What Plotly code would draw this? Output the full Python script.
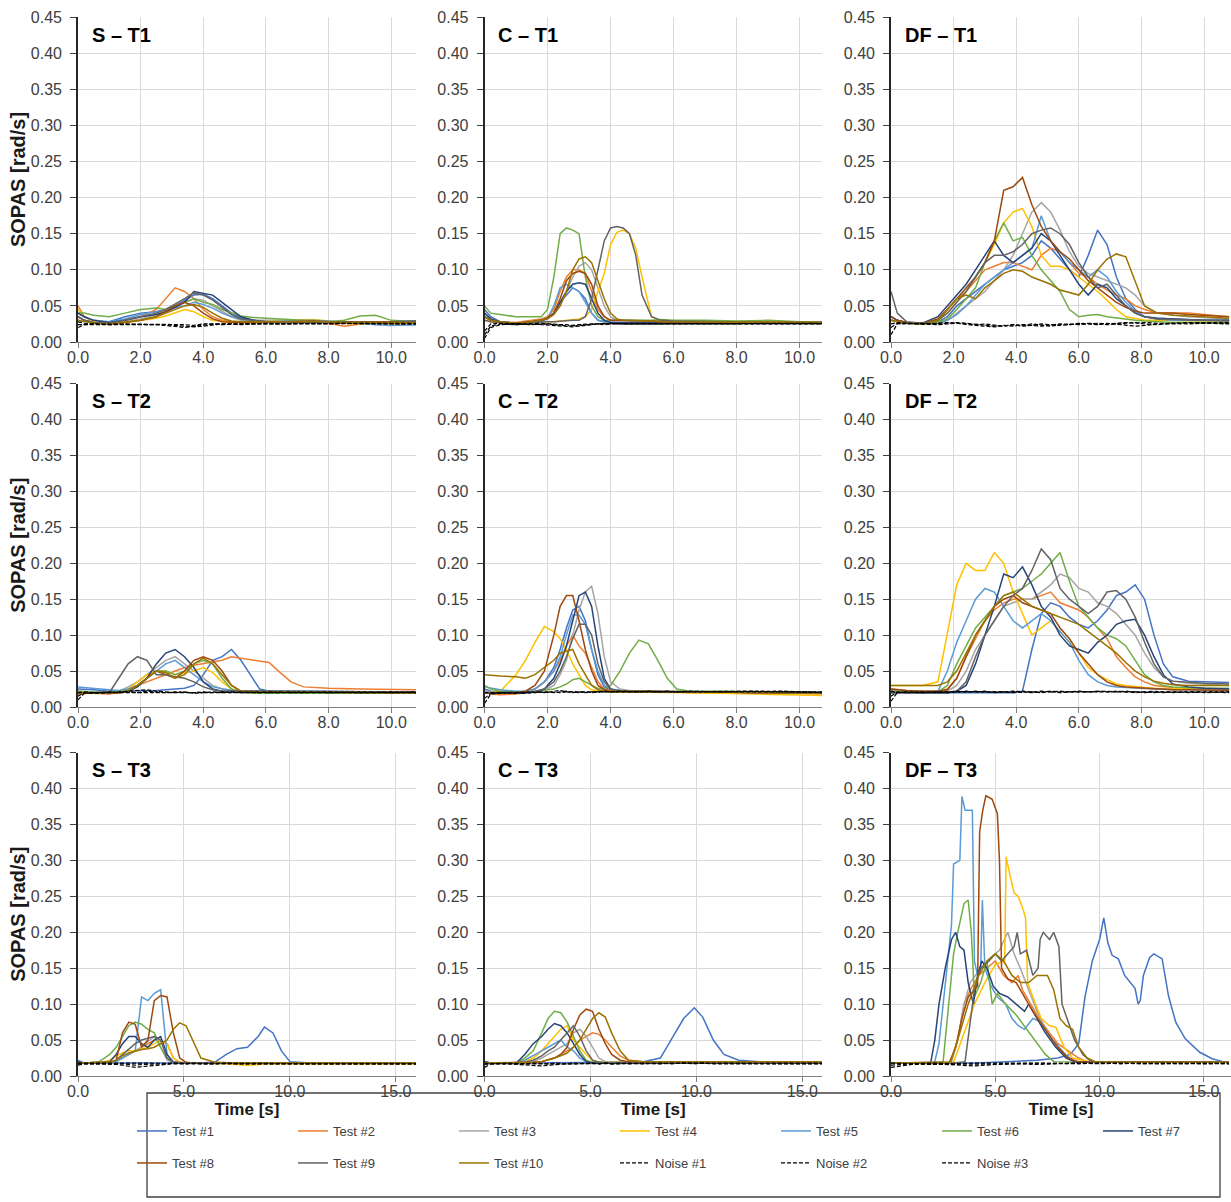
import plotly.graph_objects as go

W, H = 1231, 1202

SERIES = ["Test #1", "Test #2", "Test #3", "Test #4", "Test #5", "Test #6", "Test #7",
          "Test #8", "Test #9", "Test #10", "Noise #1", "Noise #2", "Noise #3"]
COLORS = ["#4472C4", "#ED7D31", "#A5A5A5", "#FFC000", "#5B9BD5", "#70AD47", "#264478",
          "#9E480E", "#636363", "#997300", "#000000", "#000000", "#000000"]
PANEL_LABELS = ["S – T1", "C – T1", "DF – T1",
                "S – T2", "C – T2", "DF – T2",
                "S – T3", "C – T3", "DF – T3"]
Y_TICKS = [0.00, 0.05, 0.10, 0.15, 0.20, 0.25, 0.30, 0.35, 0.40, 0.45]
X_TICKS_SHORT = [0, 2, 4, 6, 8, 10]
X_TICKS_LONG = [0, 5, 10, 15]
Y_TITLE = "SOPAS [rad/s]"
X_TITLE = "Time [s]"

# ---------------- S - T1 ----------------
S_T1_TIME = [0.0, 0.2, 0.5, 1.0, 1.5, 2.0, 2.5, 2.8, 3.1, 3.4, 3.7, 4.0, 4.3, 4.6, 4.9, 5.2, 5.6, 6.0, 6.5, 7.0, 7.5, 8.0, 8.5, 9.0, 9.5, 10.0, 10.8]
S_T1_TEST = [
    [0.035, 0.030, 0.027, 0.028, 0.035, 0.040, 0.042, 0.045, 0.050, 0.058, 0.065, 0.066, 0.060, 0.050, 0.040, 0.033, 0.030, 0.028, 0.027, 0.027, 0.028, 0.027, 0.026, 0.027, 0.028, 0.027, 0.028],
    [0.050, 0.035, 0.028, 0.026, 0.030, 0.035, 0.045, 0.060, 0.075, 0.070, 0.060, 0.045, 0.035, 0.030, 0.028, 0.028, 0.028, 0.027, 0.028, 0.028, 0.030, 0.026, 0.022, 0.025, 0.026, 0.025, 0.024],
    [0.030, 0.028, 0.027, 0.026, 0.028, 0.032, 0.038, 0.042, 0.048, 0.055, 0.060, 0.058, 0.050, 0.042, 0.035, 0.030, 0.030, 0.030, 0.029, 0.029, 0.030, 0.028, 0.027, 0.027, 0.028, 0.027, 0.028],
    [0.045, 0.035, 0.028, 0.026, 0.027, 0.030, 0.033, 0.036, 0.040, 0.045, 0.042, 0.035, 0.030, 0.028, 0.027, 0.027, 0.027, 0.028, 0.030, 0.030, 0.031, 0.029, 0.026, 0.025, 0.027, 0.026, 0.025],
    [0.040, 0.035, 0.030, 0.028, 0.032, 0.038, 0.042, 0.045, 0.048, 0.050, 0.055, 0.052, 0.047, 0.040, 0.035, 0.032, 0.030, 0.028, 0.029, 0.030, 0.030, 0.029, 0.028, 0.026, 0.024, 0.023, 0.024],
    [0.040, 0.040, 0.037, 0.035, 0.040, 0.045, 0.047, 0.045, 0.050, 0.055, 0.060, 0.055, 0.052, 0.045, 0.040, 0.036, 0.034, 0.033, 0.032, 0.031, 0.030, 0.028, 0.030, 0.036, 0.037, 0.030, 0.028],
    [0.040, 0.035, 0.030, 0.027, 0.030, 0.035, 0.038, 0.042, 0.048, 0.055, 0.070, 0.068, 0.065, 0.055, 0.045, 0.035, 0.030, 0.028, 0.027, 0.027, 0.028, 0.027, 0.028, 0.028, 0.027, 0.028, 0.029],
    [0.035, 0.030, 0.027, 0.025, 0.027, 0.030, 0.035, 0.042, 0.050, 0.055, 0.050, 0.040, 0.032, 0.028, 0.027, 0.027, 0.027, 0.028, 0.028, 0.029, 0.029, 0.028, 0.028, 0.027, 0.027, 0.028, 0.028],
    [0.035, 0.030, 0.027, 0.026, 0.030, 0.035, 0.040, 0.045, 0.052, 0.060, 0.068, 0.065, 0.058, 0.048, 0.038, 0.032, 0.030, 0.028, 0.028, 0.028, 0.028, 0.028, 0.027, 0.028, 0.028, 0.027, 0.029],
    [0.030, 0.028, 0.026, 0.025, 0.027, 0.030, 0.035, 0.040, 0.046, 0.050, 0.052, 0.048, 0.040, 0.033, 0.029, 0.028, 0.028, 0.028, 0.028, 0.028, 0.029, 0.028, 0.027, 0.027, 0.027, 0.027, 0.027],
]
S_T1_NOISE = [
    [0.020, 0.024, 0.025, 0.025, 0.025, 0.024, 0.024, 0.023, 0.022, 0.020, 0.022, 0.024, 0.025, 0.024, 0.025, 0.025, 0.025, 0.025, 0.026, 0.025, 0.026, 0.026, 0.025, 0.025, 0.026, 0.025, 0.026],
    [0.024, 0.024, 0.024, 0.025, 0.024, 0.025, 0.025, 0.024, 0.023, 0.022, 0.021, 0.022, 0.024, 0.025, 0.025, 0.024, 0.025, 0.026, 0.025, 0.026, 0.025, 0.026, 0.026, 0.025, 0.025, 0.026, 0.025],
    [0.028, 0.026, 0.025, 0.024, 0.025, 0.025, 0.024, 0.025, 0.025, 0.024, 0.023, 0.025, 0.025, 0.025, 0.024, 0.025, 0.025, 0.025, 0.025, 0.025, 0.026, 0.025, 0.026, 0.026, 0.025, 0.025, 0.025],
]

# ---------------- C - T1 ----------------
C_T1_TIME = [0.0, 0.2, 0.5, 1.0, 1.5, 1.8, 2.0, 2.2, 2.4, 2.6, 2.8, 3.0, 3.2, 3.4, 3.6, 3.8, 4.0, 4.2, 4.4, 4.6, 4.8, 5.0, 5.3, 5.6, 6.0, 7.0, 8.0, 9.0, 10.0, 10.8]
C_T1_TEST = [
    [0.045, 0.035, 0.028, 0.026, 0.028, 0.030, 0.033, 0.040, 0.055, 0.065, 0.075, 0.070, 0.060, 0.040, 0.030, 0.028, 0.027, 0.027, 0.026, 0.027, 0.027, 0.027, 0.028, 0.028, 0.027, 0.026, 0.028, 0.027, 0.026, 0.027],
    [0.035, 0.030, 0.028, 0.027, 0.030, 0.032, 0.035, 0.045, 0.070, 0.090, 0.100, 0.100, 0.095, 0.070, 0.045, 0.035, 0.030, 0.030, 0.030, 0.029, 0.029, 0.030, 0.030, 0.029, 0.028, 0.027, 0.028, 0.028, 0.027, 0.026],
    [0.035, 0.030, 0.028, 0.026, 0.028, 0.030, 0.032, 0.038, 0.050, 0.070, 0.090, 0.105, 0.110, 0.100, 0.075, 0.050, 0.035, 0.030, 0.030, 0.030, 0.030, 0.029, 0.030, 0.029, 0.028, 0.027, 0.028, 0.027, 0.027, 0.026],
    [0.030, 0.028, 0.027, 0.026, 0.027, 0.028, 0.028, 0.028, 0.029, 0.030, 0.030, 0.032, 0.035, 0.045, 0.070, 0.095, 0.135, 0.152, 0.155, 0.150, 0.130, 0.090, 0.035, 0.030, 0.029, 0.028, 0.027, 0.028, 0.027, 0.025],
    [0.040, 0.032, 0.027, 0.024, 0.026, 0.028, 0.032, 0.050, 0.075, 0.080, 0.075, 0.070, 0.055, 0.040, 0.030, 0.028, 0.027, 0.027, 0.027, 0.026, 0.027, 0.027, 0.027, 0.026, 0.026, 0.026, 0.027, 0.026, 0.026, 0.026],
    [0.050, 0.040, 0.038, 0.035, 0.035, 0.035, 0.045, 0.090, 0.150, 0.158, 0.155, 0.150, 0.090, 0.050, 0.035, 0.030, 0.030, 0.030, 0.030, 0.029, 0.030, 0.029, 0.030, 0.031, 0.030, 0.030, 0.029, 0.030, 0.028, 0.028],
    [0.040, 0.032, 0.028, 0.026, 0.028, 0.030, 0.033, 0.040, 0.055, 0.070, 0.080, 0.082, 0.080, 0.060, 0.040, 0.030, 0.027, 0.027, 0.027, 0.027, 0.027, 0.027, 0.027, 0.027, 0.027, 0.026, 0.027, 0.027, 0.026, 0.026],
    [0.035, 0.030, 0.027, 0.026, 0.028, 0.030, 0.033, 0.040, 0.060, 0.085, 0.095, 0.098, 0.095, 0.080, 0.050, 0.035, 0.030, 0.030, 0.029, 0.029, 0.029, 0.029, 0.029, 0.028, 0.028, 0.027, 0.028, 0.027, 0.027, 0.027],
    [0.030, 0.028, 0.027, 0.026, 0.027, 0.028, 0.028, 0.028, 0.029, 0.030, 0.030, 0.030, 0.035, 0.060, 0.100, 0.140, 0.158, 0.160, 0.158, 0.150, 0.120, 0.065, 0.035, 0.030, 0.029, 0.028, 0.028, 0.027, 0.027, 0.027],
    [0.035, 0.030, 0.028, 0.026, 0.028, 0.030, 0.032, 0.038, 0.050, 0.070, 0.100, 0.115, 0.118, 0.110, 0.085, 0.060, 0.040, 0.032, 0.030, 0.030, 0.030, 0.029, 0.029, 0.028, 0.028, 0.027, 0.028, 0.027, 0.027, 0.027],
]
C_T1_NOISE = [
    [0.005, 0.020, 0.024, 0.025, 0.024, 0.025, 0.025, 0.024, 0.023, 0.022, 0.022, 0.023, 0.024, 0.025, 0.025, 0.025, 0.026, 0.025, 0.025, 0.026, 0.026, 0.025, 0.026, 0.026, 0.026, 0.026, 0.026, 0.026, 0.025, 0.026],
    [0.010, 0.022, 0.025, 0.024, 0.025, 0.024, 0.024, 0.023, 0.022, 0.021, 0.021, 0.022, 0.023, 0.024, 0.025, 0.024, 0.025, 0.026, 0.025, 0.025, 0.026, 0.026, 0.025, 0.026, 0.025, 0.026, 0.025, 0.026, 0.026, 0.025],
    [0.015, 0.025, 0.026, 0.025, 0.025, 0.026, 0.025, 0.025, 0.024, 0.024, 0.023, 0.024, 0.025, 0.025, 0.025, 0.026, 0.025, 0.025, 0.026, 0.025, 0.025, 0.026, 0.026, 0.025, 0.026, 0.025, 0.026, 0.025, 0.025, 0.025],
]

# ---------------- DF - T1 ----------------
DF_T1_TIME = [0.0, 0.2, 0.5, 1.0, 1.5, 1.8, 2.1, 2.4, 2.7, 3.0, 3.3, 3.6, 3.9, 4.2, 4.5, 4.8, 5.1, 5.4, 5.7, 6.0, 6.3, 6.6, 6.9, 7.2, 7.5, 7.8, 8.1, 8.5, 9.0, 9.5, 10.0, 10.8]
DF_T1_TEST = [
    [0.035, 0.030, 0.027, 0.026, 0.028, 0.035, 0.050, 0.060, 0.070, 0.080, 0.090, 0.100, 0.105, 0.110, 0.120, 0.140, 0.130, 0.115, 0.100, 0.090, 0.120, 0.155, 0.135, 0.090, 0.060, 0.045, 0.035, 0.033, 0.032, 0.030, 0.030, 0.030],
    [0.030, 0.028, 0.027, 0.026, 0.030, 0.045, 0.060, 0.070, 0.085, 0.100, 0.105, 0.110, 0.110, 0.105, 0.100, 0.120, 0.130, 0.125, 0.110, 0.095, 0.090, 0.080, 0.072, 0.065, 0.060, 0.050, 0.045, 0.040, 0.040, 0.040, 0.038, 0.035],
    [0.030, 0.028, 0.026, 0.025, 0.026, 0.030, 0.040, 0.050, 0.060, 0.070, 0.085, 0.100, 0.120, 0.150, 0.180, 0.193, 0.180, 0.155, 0.125, 0.105, 0.095, 0.090, 0.085, 0.080, 0.075, 0.065, 0.050, 0.040, 0.037, 0.035, 0.034, 0.032],
    [0.030, 0.028, 0.026, 0.025, 0.030, 0.040, 0.055, 0.070, 0.090, 0.110, 0.135, 0.165, 0.180, 0.185, 0.160, 0.120, 0.105, 0.105, 0.100, 0.090, 0.080, 0.070, 0.058, 0.045, 0.035, 0.032, 0.030, 0.030, 0.030, 0.029, 0.029, 0.028],
    [0.030, 0.028, 0.026, 0.025, 0.026, 0.030, 0.038, 0.050, 0.065, 0.080, 0.090, 0.100, 0.110, 0.120, 0.130, 0.175, 0.140, 0.125, 0.110, 0.100, 0.090, 0.100, 0.090, 0.070, 0.055, 0.042, 0.035, 0.032, 0.030, 0.030, 0.030, 0.029],
    [0.030, 0.028, 0.026, 0.025, 0.027, 0.032, 0.045, 0.060, 0.075, 0.110, 0.140, 0.165, 0.140, 0.145, 0.120, 0.100, 0.085, 0.070, 0.045, 0.035, 0.037, 0.038, 0.035, 0.033, 0.031, 0.030, 0.029, 0.028, 0.027, 0.027, 0.027, 0.026],
    [0.035, 0.030, 0.027, 0.026, 0.035, 0.050, 0.065, 0.080, 0.100, 0.120, 0.140, 0.120, 0.110, 0.120, 0.130, 0.150, 0.140, 0.120, 0.100, 0.080, 0.065, 0.080, 0.075, 0.060, 0.050, 0.040, 0.035, 0.033, 0.032, 0.031, 0.030, 0.030],
    [0.035, 0.030, 0.027, 0.026, 0.032, 0.045, 0.060, 0.075, 0.090, 0.110, 0.140, 0.210, 0.215, 0.228, 0.190, 0.160, 0.140, 0.125, 0.115, 0.100, 0.085, 0.075, 0.065, 0.055, 0.048, 0.043, 0.040, 0.040, 0.040, 0.038, 0.037, 0.035],
    [0.070, 0.040, 0.028, 0.026, 0.030, 0.040, 0.055, 0.070, 0.090, 0.110, 0.120, 0.120, 0.125, 0.135, 0.150, 0.155, 0.158, 0.150, 0.135, 0.110, 0.090, 0.075, 0.080, 0.065, 0.050, 0.040, 0.035, 0.032, 0.031, 0.030, 0.030, 0.029],
    [0.030, 0.028, 0.026, 0.025, 0.030, 0.045, 0.060, 0.065, 0.060, 0.075, 0.085, 0.095, 0.100, 0.098, 0.090, 0.085, 0.080, 0.072, 0.068, 0.065, 0.080, 0.100, 0.115, 0.122, 0.118, 0.085, 0.050, 0.040, 0.037, 0.036, 0.035, 0.033],
]
DF_T1_NOISE = [
    [0.010, 0.025, 0.026, 0.025, 0.024, 0.025, 0.026, 0.025, 0.024, 0.025, 0.023, 0.022, 0.024, 0.023, 0.025, 0.024, 0.022, 0.024, 0.025, 0.024, 0.025, 0.026, 0.025, 0.026, 0.027, 0.026, 0.027, 0.026, 0.025, 0.026, 0.027, 0.026],
    [0.020, 0.026, 0.025, 0.026, 0.025, 0.026, 0.027, 0.026, 0.025, 0.023, 0.022, 0.023, 0.022, 0.024, 0.023, 0.025, 0.024, 0.023, 0.024, 0.025, 0.026, 0.025, 0.024, 0.025, 0.026, 0.027, 0.025, 0.024, 0.026, 0.027, 0.026, 0.027],
    [0.025, 0.027, 0.026, 0.025, 0.026, 0.027, 0.026, 0.024, 0.023, 0.022, 0.021, 0.022, 0.024, 0.022, 0.023, 0.022, 0.023, 0.025, 0.024, 0.026, 0.025, 0.024, 0.026, 0.025, 0.024, 0.022, 0.023, 0.025, 0.026, 0.025, 0.026, 0.025],
]

# ---------------- S - T2 ----------------
S_T2_TIME = [0.0, 0.2, 0.5, 1.0, 1.3, 1.6, 1.9, 2.2, 2.5, 2.8, 3.1, 3.4, 3.7, 4.0, 4.3, 4.6, 4.9, 5.2, 5.5, 5.8, 6.1, 6.4, 6.8, 7.2, 8.0, 9.0, 10.0, 10.8]
S_T2_TEST = [
    [0.025, 0.025, 0.024, 0.022, 0.022, 0.022, 0.022, 0.022, 0.023, 0.024, 0.025, 0.026, 0.030, 0.045, 0.065, 0.070, 0.080, 0.065, 0.045, 0.025, 0.022, 0.022, 0.022, 0.022, 0.022, 0.021, 0.021, 0.021],
    [0.022, 0.020, 0.019, 0.018, 0.020, 0.025, 0.030, 0.035, 0.040, 0.045, 0.050, 0.055, 0.058, 0.060, 0.062, 0.065, 0.070, 0.068, 0.065, 0.063, 0.062, 0.050, 0.035, 0.028, 0.026, 0.025, 0.024, 0.024],
    [0.022, 0.022, 0.021, 0.020, 0.022, 0.028, 0.035, 0.045, 0.055, 0.065, 0.070, 0.060, 0.050, 0.040, 0.030, 0.025, 0.023, 0.022, 0.022, 0.022, 0.022, 0.022, 0.022, 0.021, 0.021, 0.021, 0.021, 0.021],
    [0.020, 0.020, 0.020, 0.020, 0.022, 0.025, 0.035, 0.045, 0.050, 0.050, 0.045, 0.048, 0.050, 0.055, 0.048, 0.035, 0.025, 0.022, 0.021, 0.021, 0.021, 0.021, 0.021, 0.021, 0.020, 0.020, 0.020, 0.020],
    [0.028, 0.027, 0.026, 0.024, 0.023, 0.025, 0.030, 0.040, 0.050, 0.060, 0.065, 0.055, 0.045, 0.035, 0.028, 0.025, 0.023, 0.022, 0.022, 0.022, 0.022, 0.022, 0.021, 0.021, 0.021, 0.021, 0.021, 0.021],
    [0.022, 0.022, 0.021, 0.020, 0.021, 0.023, 0.030, 0.040, 0.050, 0.050, 0.045, 0.050, 0.060, 0.065, 0.060, 0.040, 0.025, 0.020, 0.019, 0.019, 0.019, 0.019, 0.018, 0.018, 0.019, 0.019, 0.019, 0.019],
    [0.020, 0.020, 0.020, 0.020, 0.020, 0.022, 0.028, 0.040, 0.060, 0.075, 0.080, 0.070, 0.055, 0.035, 0.025, 0.022, 0.022, 0.022, 0.022, 0.022, 0.022, 0.022, 0.022, 0.022, 0.022, 0.022, 0.021, 0.021],
    [0.018, 0.019, 0.020, 0.020, 0.020, 0.022, 0.030, 0.040, 0.050, 0.045, 0.040, 0.050, 0.065, 0.070, 0.065, 0.050, 0.030, 0.022, 0.021, 0.021, 0.021, 0.021, 0.021, 0.021, 0.020, 0.020, 0.020, 0.020],
    [0.020, 0.020, 0.020, 0.020, 0.040, 0.060, 0.070, 0.065, 0.045, 0.045, 0.042, 0.040, 0.035, 0.028, 0.024, 0.022, 0.022, 0.022, 0.022, 0.022, 0.022, 0.021, 0.021, 0.021, 0.021, 0.021, 0.021, 0.021],
    [0.020, 0.020, 0.020, 0.019, 0.020, 0.022, 0.030, 0.040, 0.050, 0.048, 0.040, 0.045, 0.060, 0.068, 0.060, 0.045, 0.030, 0.022, 0.021, 0.021, 0.021, 0.021, 0.021, 0.021, 0.021, 0.020, 0.020, 0.020],
]
S_T2_NOISE = [
    [0.010, 0.019, 0.020, 0.020, 0.021, 0.022, 0.023, 0.024, 0.022, 0.021, 0.020, 0.021, 0.019, 0.020, 0.021, 0.020, 0.021, 0.020, 0.021, 0.021, 0.020, 0.021, 0.020, 0.021, 0.020, 0.021, 0.020, 0.021],
    [0.015, 0.020, 0.019, 0.020, 0.020, 0.021, 0.020, 0.022, 0.021, 0.020, 0.021, 0.020, 0.020, 0.021, 0.020, 0.021, 0.020, 0.021, 0.020, 0.020, 0.021, 0.020, 0.021, 0.020, 0.021, 0.020, 0.021, 0.020],
    [0.020, 0.021, 0.020, 0.021, 0.020, 0.020, 0.021, 0.020, 0.021, 0.021, 0.020, 0.020, 0.021, 0.020, 0.020, 0.021, 0.021, 0.020, 0.021, 0.020, 0.021, 0.021, 0.020, 0.020, 0.021, 0.021, 0.020, 0.020],
]

# ---------------- C - T2 ----------------
C_T2_TIME = [0.0, 0.2, 0.5, 1.0, 1.3, 1.6, 1.9, 2.2, 2.4, 2.6, 2.8, 3.0, 3.2, 3.4, 3.6, 3.8, 4.0, 4.3, 4.6, 4.9, 5.2, 5.5, 5.8, 6.1, 6.5, 7.5, 8.5, 9.5, 10.8]
C_T2_TEST = [
    [0.025, 0.022, 0.020, 0.020, 0.021, 0.025, 0.035, 0.055, 0.080, 0.110, 0.135, 0.140, 0.120, 0.080, 0.045, 0.028, 0.024, 0.023, 0.022, 0.022, 0.022, 0.021, 0.021, 0.021, 0.021, 0.021, 0.020, 0.020, 0.019],
    [0.020, 0.018, 0.017, 0.018, 0.020, 0.025, 0.035, 0.050, 0.065, 0.085, 0.100, 0.085, 0.075, 0.055, 0.035, 0.025, 0.023, 0.022, 0.022, 0.021, 0.021, 0.021, 0.021, 0.021, 0.020, 0.020, 0.020, 0.019, 0.018],
    [0.022, 0.021, 0.020, 0.020, 0.020, 0.021, 0.023, 0.030, 0.045, 0.065, 0.100, 0.135, 0.160, 0.168, 0.130, 0.070, 0.035, 0.025, 0.023, 0.022, 0.022, 0.022, 0.021, 0.021, 0.021, 0.021, 0.021, 0.020, 0.020],
    [0.020, 0.020, 0.022, 0.045, 0.065, 0.090, 0.112, 0.105, 0.095, 0.080, 0.060, 0.045, 0.030, 0.024, 0.022, 0.022, 0.021, 0.021, 0.021, 0.021, 0.021, 0.020, 0.020, 0.020, 0.020, 0.019, 0.018, 0.017, 0.016],
    [0.028, 0.026, 0.024, 0.022, 0.022, 0.025, 0.035, 0.050, 0.070, 0.100, 0.128, 0.128, 0.115, 0.080, 0.050, 0.030, 0.025, 0.023, 0.022, 0.022, 0.022, 0.021, 0.021, 0.021, 0.021, 0.021, 0.021, 0.020, 0.020],
    [0.030, 0.025, 0.022, 0.021, 0.021, 0.022, 0.023, 0.025, 0.028, 0.032, 0.038, 0.040, 0.035, 0.030, 0.026, 0.025, 0.030, 0.050, 0.075, 0.093, 0.088, 0.065, 0.040, 0.025, 0.022, 0.022, 0.021, 0.021, 0.020],
    [0.020, 0.020, 0.020, 0.020, 0.020, 0.021, 0.025, 0.040, 0.060, 0.085, 0.120, 0.155, 0.160, 0.140, 0.085, 0.040, 0.025, 0.022, 0.022, 0.022, 0.022, 0.022, 0.022, 0.021, 0.021, 0.021, 0.021, 0.020, 0.020],
    [0.020, 0.020, 0.020, 0.020, 0.022, 0.030, 0.050, 0.100, 0.140, 0.155, 0.155, 0.120, 0.080, 0.050, 0.030, 0.024, 0.022, 0.022, 0.022, 0.022, 0.021, 0.021, 0.021, 0.021, 0.021, 0.021, 0.020, 0.020, 0.020],
    [0.020, 0.020, 0.020, 0.020, 0.020, 0.022, 0.025, 0.035, 0.050, 0.070, 0.095, 0.115, 0.115, 0.100, 0.060, 0.035, 0.025, 0.022, 0.022, 0.022, 0.022, 0.021, 0.021, 0.021, 0.021, 0.021, 0.020, 0.020, 0.020],
    [0.045, 0.044, 0.043, 0.042, 0.040, 0.045, 0.055, 0.065, 0.075, 0.078, 0.080, 0.060, 0.045, 0.030, 0.024, 0.022, 0.022, 0.022, 0.022, 0.022, 0.022, 0.021, 0.021, 0.021, 0.021, 0.021, 0.021, 0.020, 0.020],
]
C_T2_NOISE = [
    [0.005, 0.018, 0.019, 0.020, 0.019, 0.020, 0.021, 0.020, 0.021, 0.022, 0.021, 0.020, 0.021, 0.021, 0.020, 0.021, 0.021, 0.022, 0.021, 0.021, 0.022, 0.021, 0.022, 0.021, 0.022, 0.021, 0.022, 0.021, 0.020],
    [0.012, 0.019, 0.020, 0.019, 0.020, 0.021, 0.020, 0.022, 0.023, 0.021, 0.020, 0.021, 0.020, 0.021, 0.021, 0.022, 0.021, 0.022, 0.021, 0.022, 0.021, 0.022, 0.021, 0.022, 0.021, 0.022, 0.022, 0.021, 0.021],
    [0.020, 0.020, 0.019, 0.020, 0.021, 0.020, 0.021, 0.020, 0.020, 0.021, 0.021, 0.022, 0.021, 0.020, 0.021, 0.022, 0.021, 0.021, 0.022, 0.021, 0.021, 0.022, 0.021, 0.021, 0.022, 0.021, 0.021, 0.022, 0.020],
]

# ---------------- DF - T2 ----------------
DF_T2_TIME = [0.0, 0.2, 0.5, 1.0, 1.5, 1.8, 2.1, 2.4, 2.7, 3.0, 3.3, 3.6, 3.9, 4.2, 4.5, 4.8, 5.1, 5.4, 5.7, 6.0, 6.3, 6.6, 6.9, 7.2, 7.5, 7.8, 8.1, 8.4, 8.7, 9.0, 9.5, 10.0, 10.8]
DF_T2_TEST = [
    [0.020, 0.021, 0.020, 0.020, 0.020, 0.020, 0.020, 0.020, 0.020, 0.020, 0.020, 0.020, 0.020, 0.022, 0.080, 0.130, 0.145, 0.140, 0.125, 0.115, 0.110, 0.120, 0.135, 0.155, 0.160, 0.170, 0.150, 0.100, 0.060, 0.042, 0.036, 0.035, 0.034],
    [0.025, 0.024, 0.023, 0.022, 0.022, 0.025, 0.040, 0.070, 0.095, 0.120, 0.135, 0.145, 0.150, 0.150, 0.150, 0.155, 0.160, 0.145, 0.140, 0.135, 0.125, 0.110, 0.095, 0.070, 0.055, 0.042, 0.035, 0.030, 0.028, 0.027, 0.026, 0.026, 0.025],
    [0.022, 0.022, 0.021, 0.021, 0.021, 0.022, 0.030, 0.050, 0.080, 0.100, 0.120, 0.140, 0.145, 0.150, 0.150, 0.160, 0.170, 0.185, 0.180, 0.165, 0.160, 0.145, 0.140, 0.130, 0.115, 0.100, 0.075, 0.055, 0.042, 0.036, 0.033, 0.032, 0.030],
    [0.030, 0.030, 0.030, 0.030, 0.035, 0.100, 0.170, 0.200, 0.190, 0.190, 0.215, 0.200, 0.160, 0.130, 0.100, 0.110, 0.120, 0.105, 0.090, 0.075, 0.055, 0.045, 0.038, 0.032, 0.030, 0.028, 0.027, 0.026, 0.026, 0.025, 0.025, 0.024, 0.024],
    [0.022, 0.022, 0.021, 0.021, 0.022, 0.050, 0.090, 0.120, 0.150, 0.165, 0.160, 0.140, 0.120, 0.110, 0.120, 0.130, 0.120, 0.105, 0.090, 0.065, 0.045, 0.035, 0.030, 0.028, 0.027, 0.026, 0.025, 0.025, 0.025, 0.024, 0.024, 0.024, 0.023],
    [0.022, 0.022, 0.021, 0.021, 0.021, 0.030, 0.060, 0.085, 0.110, 0.125, 0.140, 0.155, 0.160, 0.165, 0.175, 0.185, 0.200, 0.215, 0.175, 0.140, 0.125, 0.110, 0.100, 0.095, 0.085, 0.065, 0.045, 0.035, 0.030, 0.028, 0.027, 0.026, 0.026],
    [0.020, 0.020, 0.020, 0.020, 0.020, 0.020, 0.022, 0.030, 0.060, 0.100, 0.140, 0.185, 0.180, 0.195, 0.170, 0.140, 0.125, 0.100, 0.085, 0.080, 0.075, 0.090, 0.100, 0.115, 0.120, 0.122, 0.100, 0.070, 0.045, 0.032, 0.028, 0.026, 0.025],
    [0.025, 0.024, 0.023, 0.022, 0.022, 0.024, 0.040, 0.070, 0.100, 0.120, 0.140, 0.150, 0.155, 0.145, 0.140, 0.135, 0.130, 0.110, 0.095, 0.075, 0.060, 0.045, 0.035, 0.030, 0.028, 0.027, 0.026, 0.025, 0.025, 0.024, 0.024, 0.024, 0.023],
    [0.020, 0.020, 0.020, 0.020, 0.020, 0.020, 0.022, 0.035, 0.070, 0.100, 0.120, 0.140, 0.155, 0.165, 0.190, 0.220, 0.205, 0.165, 0.150, 0.140, 0.130, 0.140, 0.160, 0.162, 0.150, 0.125, 0.090, 0.060, 0.042, 0.036, 0.034, 0.033, 0.032],
    [0.030, 0.030, 0.030, 0.030, 0.030, 0.035, 0.050, 0.075, 0.100, 0.120, 0.140, 0.155, 0.160, 0.150, 0.140, 0.135, 0.130, 0.125, 0.120, 0.115, 0.105, 0.095, 0.085, 0.075, 0.062, 0.050, 0.042, 0.036, 0.033, 0.031, 0.030, 0.030, 0.030],
]
DF_T2_NOISE = [
    [0.008, 0.020, 0.021, 0.020, 0.021, 0.020, 0.021, 0.022, 0.021, 0.022, 0.020, 0.021, 0.020, 0.021, 0.021, 0.020, 0.021, 0.022, 0.021, 0.022, 0.021, 0.022, 0.022, 0.021, 0.022, 0.021, 0.020, 0.021, 0.020, 0.021, 0.020, 0.021, 0.020],
    [0.015, 0.021, 0.020, 0.021, 0.020, 0.021, 0.022, 0.021, 0.022, 0.021, 0.021, 0.020, 0.021, 0.022, 0.021, 0.022, 0.021, 0.020, 0.021, 0.021, 0.022, 0.021, 0.022, 0.021, 0.021, 0.022, 0.021, 0.020, 0.021, 0.020, 0.021, 0.020, 0.021],
    [0.022, 0.020, 0.021, 0.020, 0.021, 0.021, 0.020, 0.021, 0.021, 0.020, 0.021, 0.021, 0.022, 0.021, 0.020, 0.021, 0.022, 0.021, 0.021, 0.020, 0.021, 0.022, 0.021, 0.022, 0.021, 0.020, 0.021, 0.022, 0.021, 0.021, 0.020, 0.021, 0.021],
]

# ---------------- S - T3 ----------------
S_T3_TIME = [0.0, 0.3, 1.0, 1.5, 1.8, 2.1, 2.4, 2.7, 3.0, 3.3, 3.6, 3.9, 4.2, 4.5, 4.8, 5.1, 5.4, 5.8, 6.5, 7.0, 7.5, 8.0, 8.5, 8.8, 9.2, 9.6, 10.0, 11.0, 12.5, 14.0, 16.0]
S_T3_TEST = [
    [0.020, 0.018, 0.018, 0.018, 0.018, 0.018, 0.018, 0.018, 0.018, 0.018, 0.018, 0.018, 0.018, 0.018, 0.018, 0.018, 0.018, 0.018, 0.020, 0.030, 0.038, 0.040, 0.055, 0.068, 0.060, 0.035, 0.020, 0.018, 0.018, 0.018, 0.018],
    [0.020, 0.018, 0.018, 0.018, 0.020, 0.025, 0.030, 0.035, 0.040, 0.045, 0.050, 0.048, 0.045, 0.025, 0.019, 0.018, 0.018, 0.018, 0.018, 0.018, 0.018, 0.018, 0.018, 0.018, 0.018, 0.018, 0.018, 0.019, 0.018, 0.018, 0.018],
    [0.018, 0.018, 0.018, 0.018, 0.020, 0.025, 0.030, 0.035, 0.040, 0.048, 0.055, 0.040, 0.022, 0.019, 0.018, 0.018, 0.018, 0.018, 0.018, 0.018, 0.018, 0.018, 0.018, 0.018, 0.018, 0.018, 0.018, 0.018, 0.018, 0.018, 0.018],
    [0.018, 0.018, 0.018, 0.022, 0.028, 0.032, 0.035, 0.035, 0.038, 0.040, 0.045, 0.050, 0.045, 0.025, 0.019, 0.018, 0.018, 0.018, 0.018, 0.017, 0.016, 0.015, 0.016, 0.017, 0.017, 0.017, 0.017, 0.017, 0.016, 0.017, 0.017],
    [0.022, 0.018, 0.018, 0.018, 0.020, 0.025, 0.030, 0.035, 0.110, 0.105, 0.115, 0.120, 0.030, 0.020, 0.018, 0.018, 0.018, 0.018, 0.018, 0.018, 0.018, 0.018, 0.018, 0.018, 0.018, 0.018, 0.018, 0.018, 0.018, 0.018, 0.018],
    [0.018, 0.018, 0.020, 0.030, 0.040, 0.055, 0.070, 0.075, 0.072, 0.065, 0.060, 0.040, 0.025, 0.019, 0.018, 0.018, 0.018, 0.018, 0.018, 0.018, 0.018, 0.018, 0.018, 0.018, 0.018, 0.018, 0.018, 0.018, 0.018, 0.018, 0.018],
    [0.020, 0.018, 0.018, 0.020, 0.030, 0.045, 0.055, 0.055, 0.045, 0.040, 0.050, 0.055, 0.030, 0.019, 0.018, 0.018, 0.018, 0.018, 0.018, 0.018, 0.018, 0.018, 0.018, 0.018, 0.018, 0.018, 0.018, 0.018, 0.018, 0.018, 0.018],
    [0.018, 0.018, 0.018, 0.019, 0.022, 0.060, 0.075, 0.072, 0.040, 0.050, 0.105, 0.112, 0.110, 0.060, 0.025, 0.019, 0.018, 0.018, 0.018, 0.018, 0.018, 0.018, 0.018, 0.018, 0.018, 0.018, 0.018, 0.018, 0.018, 0.018, 0.018],
    [0.018, 0.018, 0.018, 0.019, 0.022, 0.030, 0.038, 0.045, 0.050, 0.052, 0.055, 0.050, 0.025, 0.019, 0.018, 0.018, 0.018, 0.018, 0.018, 0.018, 0.018, 0.018, 0.018, 0.018, 0.018, 0.018, 0.018, 0.018, 0.018, 0.018, 0.018],
    [0.018, 0.018, 0.018, 0.019, 0.022, 0.028, 0.032, 0.035, 0.037, 0.038, 0.040, 0.045, 0.050, 0.065, 0.074, 0.070, 0.050, 0.025, 0.019, 0.018, 0.018, 0.018, 0.018, 0.018, 0.018, 0.018, 0.018, 0.019, 0.018, 0.018, 0.018],
]
S_T3_NOISE = [
    [0.015, 0.017, 0.017, 0.017, 0.016, 0.015, 0.013, 0.012, 0.013, 0.014, 0.015, 0.016, 0.017, 0.017, 0.017, 0.017, 0.017, 0.017, 0.017, 0.017, 0.017, 0.017, 0.017, 0.017, 0.018, 0.017, 0.017, 0.018, 0.017, 0.017, 0.017],
    [0.017, 0.017, 0.018, 0.017, 0.017, 0.017, 0.016, 0.015, 0.016, 0.016, 0.017, 0.017, 0.017, 0.018, 0.017, 0.017, 0.018, 0.017, 0.017, 0.018, 0.017, 0.017, 0.018, 0.017, 0.017, 0.018, 0.017, 0.017, 0.018, 0.017, 0.017],
    [0.018, 0.018, 0.017, 0.018, 0.018, 0.017, 0.017, 0.018, 0.017, 0.017, 0.018, 0.018, 0.017, 0.018, 0.018, 0.017, 0.018, 0.018, 0.017, 0.018, 0.018, 0.017, 0.018, 0.018, 0.017, 0.018, 0.018, 0.017, 0.018, 0.018, 0.017],
]

# ---------------- C - T3 ----------------
C_T3_TIME = [0.0, 0.3, 1.0, 1.5, 1.9, 2.3, 2.7, 3.0, 3.3, 3.6, 3.9, 4.2, 4.5, 4.8, 5.1, 5.4, 5.7, 6.0, 6.4, 6.8, 7.5, 8.3, 8.8, 9.4, 9.9, 10.3, 10.8, 11.3, 12.0, 13.0, 14.5, 16.0]
C_T3_TEST = [
    [0.020, 0.018, 0.018, 0.018, 0.018, 0.018, 0.018, 0.018, 0.018, 0.018, 0.018, 0.018, 0.018, 0.018, 0.018, 0.018, 0.018, 0.018, 0.019, 0.019, 0.020, 0.025, 0.050, 0.080, 0.095, 0.082, 0.050, 0.030, 0.022, 0.020, 0.020, 0.019],
    [0.018, 0.018, 0.018, 0.018, 0.018, 0.018, 0.020, 0.022, 0.025, 0.030, 0.035, 0.040, 0.050, 0.055, 0.060, 0.058, 0.050, 0.040, 0.028, 0.022, 0.020, 0.020, 0.020, 0.020, 0.020, 0.020, 0.020, 0.020, 0.020, 0.020, 0.020, 0.020],
    [0.018, 0.018, 0.018, 0.018, 0.018, 0.020, 0.025, 0.030, 0.035, 0.040, 0.045, 0.060, 0.065, 0.055, 0.040, 0.025, 0.020, 0.019, 0.019, 0.019, 0.019, 0.019, 0.019, 0.019, 0.019, 0.019, 0.019, 0.019, 0.019, 0.019, 0.019, 0.019],
    [0.018, 0.018, 0.018, 0.018, 0.020, 0.025, 0.035, 0.045, 0.055, 0.065, 0.070, 0.050, 0.040, 0.030, 0.022, 0.020, 0.020, 0.020, 0.020, 0.020, 0.020, 0.020, 0.020, 0.020, 0.020, 0.020, 0.020, 0.021, 0.020, 0.020, 0.021, 0.020],
    [0.018, 0.018, 0.018, 0.018, 0.022, 0.028, 0.035, 0.040, 0.045, 0.050, 0.040, 0.035, 0.025, 0.020, 0.019, 0.019, 0.019, 0.019, 0.019, 0.019, 0.019, 0.019, 0.019, 0.019, 0.019, 0.019, 0.019, 0.019, 0.019, 0.019, 0.019, 0.019],
    [0.018, 0.018, 0.018, 0.018, 0.025, 0.035, 0.060, 0.080, 0.090, 0.088, 0.075, 0.055, 0.035, 0.022, 0.019, 0.019, 0.018, 0.018, 0.018, 0.018, 0.018, 0.018, 0.018, 0.018, 0.018, 0.018, 0.018, 0.018, 0.018, 0.018, 0.018, 0.018],
    [0.020, 0.018, 0.018, 0.018, 0.030, 0.045, 0.055, 0.065, 0.073, 0.070, 0.060, 0.045, 0.030, 0.020, 0.018, 0.018, 0.018, 0.018, 0.018, 0.018, 0.018, 0.018, 0.018, 0.018, 0.018, 0.018, 0.018, 0.018, 0.018, 0.018, 0.018, 0.018],
    [0.018, 0.018, 0.018, 0.018, 0.018, 0.019, 0.020, 0.022, 0.025, 0.030, 0.040, 0.065, 0.085, 0.093, 0.090, 0.065, 0.045, 0.030, 0.022, 0.020, 0.019, 0.019, 0.019, 0.019, 0.019, 0.019, 0.019, 0.019, 0.019, 0.019, 0.019, 0.019],
    [0.018, 0.018, 0.018, 0.018, 0.019, 0.022, 0.028, 0.035, 0.040, 0.050, 0.060, 0.070, 0.055, 0.035, 0.022, 0.019, 0.018, 0.018, 0.018, 0.018, 0.018, 0.018, 0.018, 0.018, 0.018, 0.018, 0.018, 0.018, 0.018, 0.018, 0.018, 0.018],
    [0.018, 0.018, 0.018, 0.018, 0.018, 0.019, 0.020, 0.022, 0.025, 0.028, 0.032, 0.040, 0.050, 0.065, 0.080, 0.088, 0.082, 0.060, 0.035, 0.022, 0.020, 0.020, 0.020, 0.020, 0.020, 0.020, 0.020, 0.020, 0.020, 0.020, 0.020, 0.020],
]
C_T3_NOISE = [
    [0.012, 0.017, 0.017, 0.016, 0.016, 0.015, 0.014, 0.015, 0.016, 0.017, 0.017, 0.017, 0.017, 0.017, 0.017, 0.018, 0.017, 0.017, 0.018, 0.017, 0.017, 0.018, 0.017, 0.017, 0.018, 0.017, 0.017, 0.018, 0.017, 0.018, 0.017, 0.018],
    [0.016, 0.017, 0.017, 0.017, 0.016, 0.017, 0.016, 0.016, 0.017, 0.017, 0.016, 0.017, 0.017, 0.018, 0.017, 0.017, 0.018, 0.017, 0.017, 0.018, 0.017, 0.018, 0.017, 0.018, 0.017, 0.018, 0.017, 0.017, 0.018, 0.017, 0.018, 0.017],
    [0.018, 0.017, 0.018, 0.017, 0.017, 0.018, 0.017, 0.017, 0.018, 0.017, 0.017, 0.018, 0.017, 0.017, 0.018, 0.017, 0.018, 0.017, 0.018, 0.017, 0.018, 0.017, 0.018, 0.018, 0.017, 0.018, 0.017, 0.018, 0.017, 0.018, 0.018, 0.017],
]

# ---------------- DF - T3 (each test sampled at its own times) ----------------
DF_T3_TEST_TIME = [
    [0.0, 1.0, 2.0, 3.0, 4.0, 5.0, 6.0, 7.0, 8.0, 8.6, 9.0, 9.3, 9.65, 10.0, 10.2, 10.4, 10.6, 10.9, 11.2, 11.5, 11.7, 11.85, 11.95, 12.1, 12.4, 12.6, 13.0, 13.3, 13.65, 14.1, 14.8, 15.4, 15.9, 16.2],
    [0.0, 1.0, 2.0, 2.85, 3.2, 3.5, 3.8, 4.2, 4.6, 5.0, 5.4, 5.8, 6.1, 6.3, 6.7, 7.1, 7.6, 8.0, 8.5, 9.0, 9.4, 12.0, 16.2],
    [0.0, 1.0, 2.0, 2.9, 3.2, 3.5, 3.8, 4.3, 4.8, 5.2, 5.6, 5.9, 6.2, 6.6, 7.0, 7.5, 8.0, 8.5, 9.0, 12.0, 16.2],
    [0.0, 1.0, 2.0, 3.0, 3.5, 4.0, 4.5, 5.0, 5.45, 5.52, 5.7, 5.9, 6.1, 6.3, 6.45, 6.55, 6.8, 7.2, 7.6, 7.9, 8.3, 8.7, 9.5, 12.0, 16.2],
    [0.0, 1.0, 2.0, 2.1, 2.3, 2.5, 2.7, 2.9, 3.0, 3.3, 3.4, 3.55, 3.9, 4.0, 4.15, 4.3, 4.38, 4.5, 4.8, 5.1, 5.5, 5.8, 6.1, 6.4, 6.8, 7.2, 7.7, 8.4, 8.8, 10.0, 12.0, 14.0, 16.2],
    [0.0, 1.0, 2.0, 2.5, 2.75, 3.0, 3.2, 3.5, 3.7, 3.85, 4.0, 4.3, 4.6, 4.85, 5.1, 5.5, 6.0, 6.5, 7.0, 7.4, 7.8, 9.0, 12.0, 16.2],
    [0.0, 1.0, 1.9, 2.1, 2.3, 2.6, 2.9, 3.1, 3.3, 3.5, 3.7, 3.95, 4.15, 4.35, 4.6, 4.9, 5.2, 5.6, 6.0, 6.4, 6.6, 7.0, 7.4, 7.9, 8.4, 8.8, 11.0, 16.2],
    [0.0, 1.0, 2.0, 2.8, 3.1, 3.4, 3.7, 4.0, 4.15, 4.25, 4.4, 4.55, 4.85, 5.1, 5.2, 5.3, 5.6, 6.0, 6.3, 6.8, 7.5, 8.0, 8.5, 9.0, 11.0, 13.0, 16.2],
    [0.0, 1.0, 2.0, 3.0, 3.55, 3.8, 4.0, 4.3, 4.7, 5.0, 5.3, 5.6, 5.9, 6.05, 6.2, 6.5, 6.8, 7.05, 7.15, 7.3, 7.6, 7.8, 8.05, 8.2, 8.5, 8.8, 9.2, 9.6, 12.0, 16.2],
    [0.0, 1.0, 2.0, 2.85, 3.3, 3.7, 4.2, 4.6, 5.0, 5.4, 5.8, 6.2, 6.6, 7.0, 7.5, 7.8, 8.1, 8.4, 8.7, 9.0, 9.4, 9.8, 12.0, 16.2],
]
DF_T3_TEST = [
    [0.018, 0.018, 0.018, 0.017, 0.018, 0.019, 0.020, 0.022, 0.025, 0.030, 0.045, 0.110, 0.160, 0.190, 0.220, 0.185, 0.168, 0.163, 0.140, 0.129, 0.122, 0.100, 0.105, 0.140, 0.165, 0.170, 0.163, 0.112, 0.075, 0.052, 0.033, 0.024, 0.020, 0.019],
    [0.018, 0.018, 0.018, 0.019, 0.050, 0.100, 0.120, 0.140, 0.150, 0.160, 0.140, 0.130, 0.140, 0.120, 0.100, 0.080, 0.060, 0.045, 0.035, 0.025, 0.020, 0.019, 0.019],
    [0.018, 0.018, 0.018, 0.019, 0.050, 0.100, 0.130, 0.150, 0.165, 0.175, 0.200, 0.170, 0.150, 0.120, 0.090, 0.060, 0.040, 0.025, 0.020, 0.019, 0.019],
    [0.018, 0.018, 0.017, 0.019, 0.060, 0.100, 0.130, 0.155, 0.160, 0.305, 0.280, 0.255, 0.250, 0.235, 0.220, 0.130, 0.110, 0.080, 0.070, 0.068, 0.040, 0.025, 0.020, 0.019, 0.019],
    [0.018, 0.018, 0.018, 0.020, 0.045, 0.100, 0.160, 0.210, 0.295, 0.300, 0.389, 0.370, 0.370, 0.160, 0.140, 0.150, 0.245, 0.150, 0.125, 0.110, 0.100, 0.080, 0.070, 0.065, 0.080, 0.075, 0.052, 0.029, 0.020, 0.019, 0.019, 0.019, 0.019],
    [0.018, 0.018, 0.018, 0.020, 0.100, 0.170, 0.200, 0.240, 0.245, 0.200, 0.110, 0.130, 0.160, 0.100, 0.115, 0.100, 0.085, 0.065, 0.045, 0.030, 0.020, 0.019, 0.019, 0.019],
    [0.018, 0.018, 0.018, 0.050, 0.100, 0.150, 0.190, 0.200, 0.180, 0.175, 0.130, 0.100, 0.140, 0.160, 0.150, 0.125, 0.115, 0.110, 0.100, 0.090, 0.100, 0.080, 0.060, 0.040, 0.025, 0.020, 0.019, 0.019],
    [0.018, 0.018, 0.018, 0.019, 0.040, 0.080, 0.110, 0.120, 0.125, 0.340, 0.370, 0.390, 0.385, 0.365, 0.300, 0.150, 0.135, 0.130, 0.115, 0.090, 0.060, 0.040, 0.025, 0.019, 0.019, 0.019, 0.019],
    [0.018, 0.018, 0.018, 0.018, 0.020, 0.080, 0.120, 0.150, 0.160, 0.170, 0.160, 0.170, 0.180, 0.200, 0.170, 0.175, 0.140, 0.150, 0.190, 0.200, 0.190, 0.200, 0.180, 0.100, 0.075, 0.050, 0.030, 0.020, 0.019, 0.019],
    [0.018, 0.018, 0.018, 0.019, 0.060, 0.100, 0.140, 0.160, 0.170, 0.160, 0.140, 0.130, 0.130, 0.140, 0.140, 0.120, 0.080, 0.070, 0.065, 0.040, 0.025, 0.020, 0.019, 0.019],
]
DF_T3_NOISE_TIME = [0.0, 1.0, 2.0, 3.0, 4.0, 5.0, 6.0, 7.0, 8.0, 9.0, 10.0, 11.0, 12.0, 13.0, 14.0, 15.0, 16.2]
DF_T3_NOISE = [
    [0.012, 0.016, 0.017, 0.015, 0.014, 0.016, 0.017, 0.016, 0.017, 0.018, 0.017, 0.018, 0.017, 0.018, 0.017, 0.018, 0.017],
    [0.015, 0.017, 0.016, 0.016, 0.017, 0.016, 0.017, 0.018, 0.017, 0.017, 0.018, 0.017, 0.018, 0.017, 0.018, 0.017, 0.018],
    [0.018, 0.017, 0.018, 0.017, 0.018, 0.018, 0.017, 0.018, 0.018, 0.017, 0.018, 0.018, 0.017, 0.018, 0.018, 0.018, 0.017],
]

# ---------------- assemble ----------------
def shared(time, tests, noise):
    return [(time, v) for v in tests + noise]

PANELS = [
    shared(S_T1_TIME, S_T1_TEST, S_T1_NOISE),
    shared(C_T1_TIME, C_T1_TEST, C_T1_NOISE),
    shared(DF_T1_TIME, DF_T1_TEST, DF_T1_NOISE),
    shared(S_T2_TIME, S_T2_TEST, S_T2_NOISE),
    shared(C_T2_TIME, C_T2_TEST, C_T2_NOISE),
    shared(DF_T2_TIME, DF_T2_TEST, DF_T2_NOISE),
    shared(S_T3_TIME, S_T3_TEST, S_T3_NOISE),
    shared(C_T3_TIME, C_T3_TEST, C_T3_NOISE),
    [(t, v) for t, v in zip(DF_T3_TEST_TIME, DF_T3_TEST)] + [(DF_T3_NOISE_TIME, v) for v in DF_T3_NOISE],
]

FONT = "Liberation Sans, Arial, sans-serif"
TICK_COLOR = "#404040"
GRID = "#D9D9D9"

COL_PX = [(78, 416), (484.5, 822), (891, 1231)]
ROW_PX = [(17, 342), (383.5, 707), (752.5, 1076)]
X_MAX = [[10.79, 10.71, 10.86], [10.79, 10.71, 10.86], [15.95, 15.93, 16.3]]

fig = go.Figure()
layout = {}
annotations = []

for k in range(9):
    r, c = divmod(k, 3)
    sfx = "" if k == 0 else str(k + 1)
    xref, yref = "x" + sfx, "y" + sfx
    for i, (t, v) in enumerate(PANELS[k]):
        n = min(len(t), len(v))
        is_noise = i >= 10
        fig.add_trace(go.Scatter(
            x=t[:n], y=v[:n], mode="lines", name=SERIES[i],
            line=dict(color=COLORS[i], width=1.2 if is_noise else 1.5,
                      dash="4px,2px" if is_noise else "solid"),
            xaxis=xref, yaxis=yref,
            showlegend=(k == 0),
            legend="legend" if i < 7 else "legend2",
        ))
    x0, x1 = COL_PX[c]
    y0, y1 = ROW_PX[r]
    xa = dict(domain=[x0 / W, x1 / W], anchor=yref, range=[0, X_MAX[r][c]],
              tickmode="array", tickvals=X_TICKS_LONG if r == 2 else X_TICKS_SHORT,
              tickformat=".1f", showgrid=True, gridcolor=GRID, gridwidth=1,
              showline=True, linecolor="#7F7F7F", linewidth=1.3,
              ticks="outside", ticklen=5, tickcolor="#7F7F7F",
              ticklabelstandoff=-4,
              tickfont=dict(family=FONT, size=16, color=TICK_COLOR),
              zeroline=False, fixedrange=True, automargin=False)
    if r == 2:
        xa["title"] = dict(text="<b>" + X_TITLE + "</b>", standoff=2,
                           font=dict(family=FONT, size=17, color="#1a1a1a"))
    ya = dict(domain=[1 - y1 / H, 1 - y0 / H], anchor=xref, range=[0, 0.4502],
              tickmode="array", tickvals=Y_TICKS, tickformat=".2f",
              showgrid=True, gridcolor=GRID, gridwidth=1,
              showline=True, linecolor="#262626", linewidth=1.6,
              ticks="outside", ticklen=6, tickcolor="#404040",
              ticklabelstandoff=5,
              tickfont=dict(family=FONT, size=16, color=TICK_COLOR),
              zeroline=False, fixedrange=True, automargin=False)
    if c == 0:
        ya["title"] = dict(text="<b>" + Y_TITLE + "</b>", standoff=0,
                           font=dict(family=FONT, size=20, color="#1a1a1a"))
    layout["xaxis" + sfx] = xa
    layout["yaxis" + sfx] = ya
    annotations.append(dict(
        text="<b>" + PANEL_LABELS[k] + "</b>", xref=xref + " domain", yref=yref + " domain",
        x=0.035, y=0.985, xanchor="left", yanchor="top", showarrow=False,
        font=dict(family=FONT, size=20, color="#000000")))

legend_common = dict(orientation="h", xanchor="left", yanchor="middle",
                     x=132 / W, bgcolor="rgba(0,0,0,0)", borderwidth=0,
                     entrywidth=116, entrywidthmode="pixels", itemwidth=30,
                     traceorder="normal",
                     font=dict(family=FONT, size=13, color=TICK_COLOR),
                     itemclick=False, itemdoubleclick=False)

fig.update_layout(
    width=W, height=H,
    margin=dict(l=0, r=0, t=0, b=0, autoexpand=False),
    paper_bgcolor="white", plot_bgcolor="white",
    showlegend=True,
    legend=dict(legend_common, y=1 - 1131 / H),
    legend2=dict(legend_common, y=1 - 1163 / H),
    annotations=annotations,
    shapes=[dict(type="rect", xref="paper", yref="paper",
                 x0=147 / W, x1=1220 / W, y0=1 - 1197 / H, y1=1 - 1093 / H,
                 line=dict(color="#404040", width=1.3), fillcolor="rgba(0,0,0,0)")],
    **layout,
)

fig.write_html("out.html",
               config={"displayModeBar": False},
               post_script="document.body.style.margin='0px';document.body.style.overflow='hidden';")
